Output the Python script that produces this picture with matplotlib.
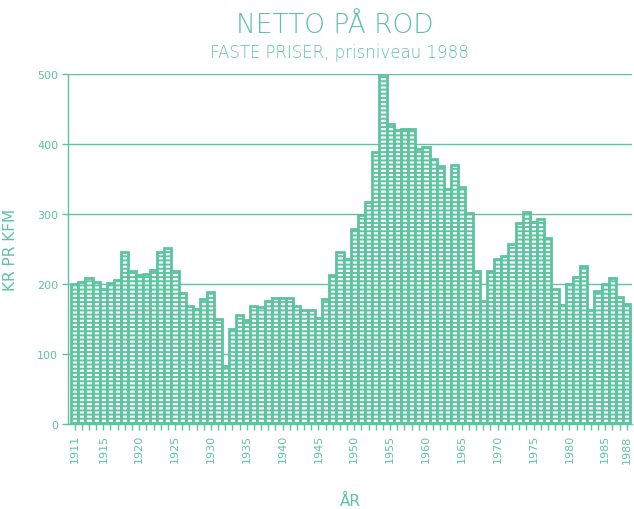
import numpy as np
import matplotlib
matplotlib.use('Agg')
import matplotlib.pyplot as plt

# Netto paa rod, kr pr kfm, faste priser (prisniveau 1988)
years = np.arange(1911, 1989)
values = [200, 203, 209, 202, 192, 201, 206, 246, 218, 212,
          214, 220, 245, 251, 218, 187, 168, 164, 178, 189,
          150, 82, 136, 155, 148, 169, 167, 176, 180, 180,
          180, 168, 163, 162, 151, 178, 213, 245, 236, 279,
          298, 317, 388, 500, 429, 420, 421, 421, 393, 395,
          379, 369, 335, 370, 338, 302, 219, 175, 219, 235,
          240, 257, 287, 303, 289, 293, 266, 193, 170, 200,
          210, 225, 163, 190, 200, 208, 181, 171]
xtick_years = [1911, 1915, 1920, 1925, 1930, 1935, 1940, 1945, 1950,
               1955, 1960, 1965, 1970, 1975, 1980, 1985, 1988]
yticks = [0, 100, 200, 300, 400, 500]

green = '#5cc49e'
plt.rcParams['hatch.linewidth'] = 1.4
plt.rcParams['hatch.color'] = green

fig = plt.figure(figsize=(6.34, 5.10), dpi=100)
ax = fig.add_axes([0.107, 0.167, 0.890, 0.686])

ax.bar(years, values, width=1.0, facecolor='white', edgecolor=green,
       linewidth=2.0, hatch='----', zorder=2)

ax.set_xlim(1910.05, 1988.75)
ax.set_ylim(0, 500)
ax.set_yticks(yticks)
ax.set_xticks(years, minor=True)
ax.set_xticks(xtick_years)
ax.set_xticklabels([str(y) for y in xtick_years], rotation=90)
ax.grid(axis='y', color=green, linewidth=1.0, zorder=0)
ax.set_axisbelow(True)

for side in ['top', 'right']:
    ax.spines[side].set_visible(False)
for side in ['left', 'bottom']:
    ax.spines[side].set_color(green)
    ax.spines[side].set_linewidth(1.0)

ax.tick_params(axis='both', which='both', colors=green, labelsize=8,
               direction='out')
ax.tick_params(axis='x', which='both', length=4, width=1.0)
ax.tick_params(axis='y', length=4, width=1.0, pad=3)

ax.set_ylabel('KR PR KFM', color=green, fontsize=11, labelpad=14)
ax.set_xlabel('ÅR', color=green, fontsize=11, labelpad=22)

fig.text(0.528, 0.950, 'NETTO PÅ ROD', ha='center', va='center',
         color=green, fontsize=19, fontweight='light')
fig.text(0.535, 0.897, 'FASTE PRISER, prisniveau 1988', ha='center',
         va='center', color=green, fontsize=12, fontweight='light')

fig.savefig('out.png', dpi=100)
